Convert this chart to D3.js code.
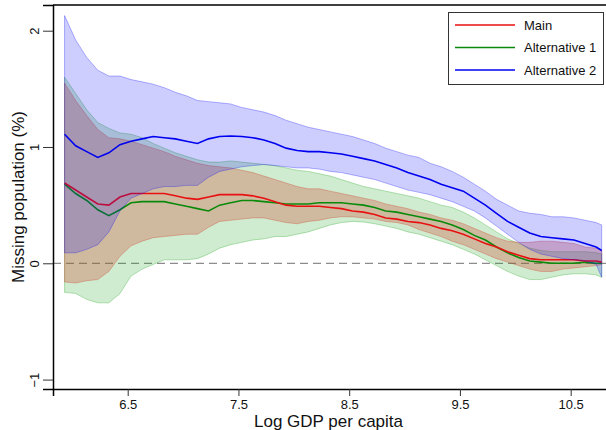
<!DOCTYPE html>
<html>
<head>
<meta charset="utf-8">
<script src="https://cdn.jsdelivr.net/npm/d3@7"></script>
<style>
  html, body { margin: 0; padding: 0; background: #fff; }
  svg { display: block; font-family: "Liberation Sans", Arial, Helvetica, sans-serif; }
</style>
</head>
<body>
<svg id="chart" width="606" height="430"></svg>
<script>
// Log GDP per capita grid
const logGdp = [5.93, 6.03, 6.13, 6.23, 6.33, 6.43, 6.53, 6.63, 6.73, 6.83,
  6.93, 7.03, 7.13, 7.23, 7.33, 7.43, 7.53, 7.63, 7.73, 7.83,
  7.93, 8.03, 8.13, 8.23, 8.33, 8.43, 8.53, 8.63, 8.73, 8.83,
  8.93, 9.03, 9.13, 9.23, 9.33, 9.43, 9.53, 9.63, 9.73, 9.83,
  9.93, 10.03, 10.13, 10.23, 10.33, 10.43, 10.53, 10.63, 10.73, 10.78];

// Main estimate and confidence band
const mainEst = [0.69, 0.63, 0.57, 0.51, 0.50, 0.57, 0.60, 0.60, 0.60, 0.60,
  0.58, 0.56, 0.55, 0.57, 0.59, 0.59, 0.59, 0.58, 0.56, 0.53,
  0.50, 0.49, 0.49, 0.49, 0.48, 0.47, 0.45, 0.44, 0.42, 0.39,
  0.38, 0.36, 0.35, 0.33, 0.30, 0.28, 0.25, 0.21, 0.17, 0.14,
  0.10, 0.07, 0.04, 0.03, 0.03, 0.03, 0.03, 0.02, 0.02, 0.01];
const mainHi = [1.55, 1.40, 1.27, 1.15, 1.08, 1.07, 1.05, 1.02, 0.99, 0.96,
  0.92, 0.89, 0.86, 0.84, 0.83, 0.82, 0.80, 0.78, 0.75, 0.72,
  0.69, 0.66, 0.64, 0.64, 0.62, 0.60, 0.58, 0.56, 0.54, 0.51,
  0.49, 0.47, 0.44, 0.42, 0.39, 0.37, 0.34, 0.30, 0.26, 0.22,
  0.19, 0.18, 0.18, 0.19, 0.19, 0.18, 0.17, 0.14, 0.13, 0.11];
const mainLo = [-0.16, -0.17, -0.15, -0.14, -0.07, 0.06, 0.15, 0.19, 0.22, 0.23,
  0.24, 0.25, 0.25, 0.31, 0.36, 0.37, 0.38, 0.39, 0.39, 0.37,
  0.35, 0.34, 0.36, 0.37, 0.39, 0.40, 0.40, 0.39, 0.38, 0.36,
  0.35, 0.33, 0.29, 0.26, 0.23, 0.19, 0.16, 0.12, 0.08, 0.04,
  0.01, -0.02, -0.05, -0.07, -0.07, -0.05, -0.04, -0.03, -0.02, -0.01];

// Alternative 1
const alt1Est = [0.68, 0.60, 0.54, 0.46, 0.41, 0.46, 0.52, 0.53, 0.53, 0.53,
  0.51, 0.49, 0.47, 0.45, 0.50, 0.52, 0.54, 0.54, 0.53, 0.52,
  0.51, 0.51, 0.51, 0.52, 0.52, 0.52, 0.51, 0.50, 0.48, 0.45,
  0.44, 0.42, 0.40, 0.38, 0.36, 0.33, 0.29, 0.24, 0.20, 0.14,
  0.09, 0.05, 0.02, 0.01, 0.00, 0.00, 0.00, 0.01, 0.00, 0.00];
const alt1Hi = [1.60, 1.46, 1.32, 1.21, 1.16, 1.12, 1.11, 1.08, 1.03, 0.99,
  0.95, 0.92, 0.89, 0.87, 0.87, 0.88, 0.87, 0.86, 0.85, 0.84,
  0.82, 0.80, 0.79, 0.77, 0.75, 0.72, 0.69, 0.66, 0.64, 0.62,
  0.60, 0.58, 0.56, 0.53, 0.50, 0.48, 0.44, 0.39, 0.33, 0.27,
  0.21, 0.17, 0.13, 0.11, 0.10, 0.10, 0.10, 0.10, 0.09, 0.08];
const alt1Lo = [-0.25, -0.26, -0.31, -0.34, -0.34, -0.26, -0.11, -0.05, -0.01, 0.03,
  0.03, 0.03, 0.04, 0.08, 0.13, 0.16, 0.18, 0.20, 0.21, 0.23,
  0.23, 0.25, 0.27, 0.30, 0.33, 0.35, 0.36, 0.355, 0.34, 0.32,
  0.30, 0.27, 0.25, 0.22, 0.19, 0.16, 0.12, 0.08, 0.03, -0.02,
  -0.07, -0.11, -0.14, -0.14, -0.12, -0.10, -0.09, -0.09, -0.10, -0.12];

// Alternative 2
const alt2Est = [1.11, 1.01, 0.96, 0.91, 0.95, 1.02, 1.05, 1.07, 1.09, 1.08,
  1.07, 1.05, 1.03, 1.07, 1.09, 1.095, 1.09, 1.08, 1.06, 1.03,
  0.99, 0.97, 0.96, 0.96, 0.95, 0.94, 0.92, 0.90, 0.88, 0.85,
  0.82, 0.78, 0.75, 0.72, 0.68, 0.65, 0.62, 0.56, 0.50, 0.43,
  0.36, 0.31, 0.26, 0.23, 0.22, 0.21, 0.20, 0.17, 0.14, 0.11];
const alt2Hi = [2.13, 1.92, 1.77, 1.66, 1.61, 1.61, 1.58, 1.56, 1.54, 1.51,
  1.47, 1.44, 1.40, 1.39, 1.38, 1.37, 1.34, 1.32, 1.30, 1.27,
  1.23, 1.20, 1.17, 1.15, 1.13, 1.11, 1.09, 1.06, 1.03, 0.99,
  0.96, 0.93, 0.91, 0.86, 0.83, 0.79, 0.74, 0.68, 0.62, 0.55,
  0.50, 0.45, 0.43, 0.42, 0.40, 0.40, 0.39, 0.37, 0.35, 0.33];
const alt2Lo = [0.09, 0.09, 0.12, 0.16, 0.27, 0.45, 0.56, 0.60, 0.64, 0.66,
  0.66, 0.67, 0.67, 0.74, 0.79, 0.81, 0.83, 0.84, 0.85, 0.84,
  0.83, 0.82, 0.82, 0.81, 0.79, 0.78, 0.76, 0.74, 0.72, 0.69,
  0.66, 0.63, 0.61, 0.59, 0.56, 0.53, 0.49, 0.45, 0.39, 0.32,
  0.25, 0.18, 0.12, 0.08, 0.06, 0.04, 0.03, 0.02, -0.01, -0.12];

const xTicks = [6.5, 7.5, 8.5, 9.5, 10.5];
const yTicks = [-1, 0, 1, 2];
const seriesNames = ["Main", "Alternative 1", "Alternative 2"];

(function draw() {
  const svg = d3.select("#chart");
  const mLeft = 53, mRight = 608, mTop = 5, mBottom = 389;

  const x = d3.scaleLinear().domain([5.8255, 10.837]).range([mLeft, mRight]);
  const y = d3.scaleLinear().domain([-1.081, 2.221]).range([mBottom, mTop]);

  const rows = logGdp.map((g, i) => ({
    g,
    m: mainEst[i], mh: mainHi[i], ml: mainLo[i],
    a: alt1Est[i], ah: alt1Hi[i], al: alt1Lo[i],
    b: alt2Est[i], bh: alt2Hi[i], bl: alt2Lo[i]
  }));

  const band = (hi, lo) => d3.area().x(d => x(d.g)).y0(d => y(d[lo])).y1(d => y(d[hi]));
  const line = key => d3.line().x(d => x(d.g)).y(d => y(d[key]));

  const plot = svg.append("g");

  // zero reference
  plot.append("line")
    .attr("x1", mLeft).attr("x2", mRight)
    .attr("y1", y(0)).attr("y2", y(0))
    .attr("stroke", "#8c8c8c").attr("stroke-width", 1.2)
    .attr("stroke-dasharray", "8,5");

  // confidence bands and estimate lines
  plot.append("path").datum(rows).attr("d", band("ah", "al"))
    .attr("fill", "rgba(20,160,20,0.2)").attr("stroke", "rgba(20,160,20,0.3)").attr("stroke-width", 1);
  plot.append("path").datum(rows).attr("d", band("mh", "ml"))
    .attr("fill", "rgba(205,70,50,0.3)").attr("stroke", "rgba(205,70,50,0.35)").attr("stroke-width", 1);
  plot.append("path").datum(rows).attr("d", line("a"))
    .attr("fill", "none").attr("stroke", "#0a8a0a").attr("stroke-width", 1.6);
  plot.append("path").datum(rows).attr("d", line("m"))
    .attr("fill", "none").attr("stroke", "#e81010").attr("stroke-width", 1.6);
  plot.append("path").datum(rows).attr("d", band("bh", "bl"))
    .attr("fill", "rgba(10,10,250,0.2)").attr("stroke", "rgba(10,10,250,0.3)").attr("stroke-width", 1);
  plot.append("path").datum(rows).attr("d", line("b"))
    .attr("fill", "none").attr("stroke", "#0000f0").attr("stroke-width", 1.6);

  // frame
  svg.append("line").attr("x1", mLeft).attr("x2", mRight).attr("y1", mTop).attr("y2", mTop)
    .attr("stroke", "#000").attr("stroke-width", 1.5);

  // axes
  const xAxis = svg.append("g").attr("transform", `translate(0,${mBottom})`)
    .call(d3.axisBottom(x).tickValues(xTicks).tickSize(7).tickPadding(4).tickFormat(d3.format(".1f")));
  xAxis.select(".domain").attr("stroke", "#000").attr("stroke-width", 1.5);
  xAxis.selectAll(".tick line").attr("stroke", "#333").attr("stroke-width", 1);
  xAxis.selectAll(".tick text").attr("font-size", 13).attr("fill", "#111")
    .attr("font-family", "Liberation Sans, Arial, sans-serif");

  const yAxis = svg.append("g").attr("transform", `translate(${mLeft},0)`)
    .call(d3.axisLeft(y).tickValues(yTicks).tickSize(10).tickFormat(d3.format("d")));
  yAxis.select(".domain").attr("stroke", "#000").attr("stroke-width", 1.5);
  yAxis.selectAll(".tick line").attr("stroke", "#333").attr("stroke-width", 1);
  yAxis.selectAll(".tick text")
    .attr("font-size", 13).attr("fill", "#111")
    .attr("font-family", "Liberation Sans, Arial, sans-serif")
    .attr("x", null).attr("dy", null)
    .attr("text-anchor", "middle")
    .attr("transform", "translate(-14,0) rotate(-90)");

  // axis titles
  svg.append("text")
    .attr("x", (mLeft + mRight) / 2 - 2).attr("y", 427)
    .attr("text-anchor", "middle").attr("font-size", 17).attr("fill", "#111")
    .text("Log GDP per capita");
  svg.append("text")
    .attr("transform", `translate(24,${(mTop + mBottom) / 2}) rotate(-90)`)
    .attr("text-anchor", "middle").attr("font-size", 17).attr("fill", "#111")
    .text("Missing population (%)");

  // legend
  const legend = svg.append("g");
  legend.append("rect")
    .attr("x", 448.5).attr("y", 12.5).attr("width", 155).attr("height", 72)
    .attr("fill", "#fff").attr("stroke", "#333").attr("stroke-width", 1);
  const legendColors = ["#e81010", "#0a8a0a", "#0000f0"];
  seriesNames.forEach((name, i) => {
    const ly = 25 + i * 22.5;
    legend.append("line").attr("x1", 455).attr("x2", 515).attr("y1", ly).attr("y2", ly)
      .attr("stroke", legendColors[i]).attr("stroke-width", 1.5);
    legend.append("text").attr("x", 524).attr("y", ly).attr("dy", "0.35em")
      .attr("font-size", 13).attr("fill", "#111").text(name);
  });
})();
</script>
</body>
</html>
